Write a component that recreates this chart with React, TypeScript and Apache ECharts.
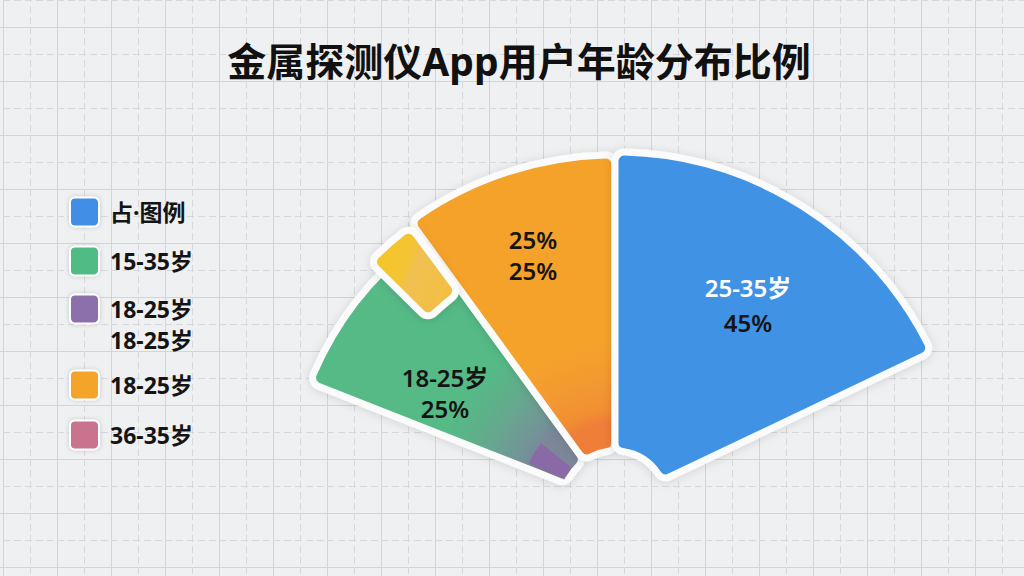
import React, { useEffect, useRef } from "react";
import * as echarts from "echarts";

// ---------- data ----------
const chartTitle = "金属探测仪App用户年龄分布比例";

// main sectors, listed clockwise from the start angle (arc in degrees)
const sliceArcs = [32.5, 36, 64.5]; // green, orange, blue
const sliceOuterRadii = [328, 348, 351];
const sliceTopLines = ["18-25岁", "25%", "25-35岁"];
const sliceBottomLines = ["25%", "25%", "45%"];

// small yellow wedge: lead-in arc from the start angle, its own arc
const wedgeArcs = [23, 9];
const wedgeRadii = [262, 344];

// purple tint near the hub of the green sector: lead-in arc, own arc
const tintArcs = [3.5, 14];
const tintRadii = [56, 95];

const legendLabels = ["占·图例", "15-35岁", "18-25岁\n18-25岁", "18-25岁", "36-35岁"];

// ---------- styles ----------
const CX = 615;
const CY = 503;
const START = 158.5;
const INNER = 52;
const FONT = '"Noto Sans", "Noto Sans CJK SC", sans-serif';

const radial = (r: number, stops: [number, string][]) => ({
  type: "radial",
  x: CX,
  y: CY,
  r,
  global: true,
  colorStops: stops.map(([offset, color]) => ({ offset, color })),
});

const sliceFills = [
  radial(328, [
    [0, "#7c8599"],
    [0.28, "#7b879a"],
    [0.32, "#739397"],
    [0.4, "#6aa391"],
    [0.48, "#5db189"],
    [0.56, "#55ba86"],
    [1, "#55ba86"],
  ]),
  radial(348, [
    [0, "#ef7c38"],
    [0.23, "#ef7e38"],
    [0.27, "#f28f33"],
    [0.36, "#f39a30"],
    [0.46, "#f5a22c"],
    [1, "#f5a22c"],
  ]),
  "#4192e5",
];
const sliceTopColors = ["#141414", "#141414", "#ffffff"];
const legendColors = ["#3f8ee6", "#50bb85", "#8b6fab", "#f5a42a", "#c9738f"];

const hidden = { color: "rgba(0,0,0,0)", borderWidth: 0, shadowBlur: 0 };
const shown = (fill: any, border = true) => ({
  color: fill,
  borderColor: "#fbfbfb",
  borderWidth: border ? 7 : 0,
  borderRadius: border ? 9 : 0,
  shadowBlur: border ? 10 : 0,
  shadowColor: "rgba(0,0,0,0.13)",
  shadowOffsetY: 1,
});

function pieLayer(arcs: number[], visible: number, radius: number[], style: any) {
  const used = arcs.reduce((a, b) => a + b, 0);
  const data = arcs.map((v, i) => ({ value: v, itemStyle: i === visible ? style : hidden }));
  data.push({ value: 360 - used, itemStyle: hidden });
  return {
    type: "pie",
    center: [CX, CY],
    radius,
    startAngle: START,
    clockwise: true,
    silent: true,
    animation: false,
    label: { show: false },
    labelLine: { show: false },
    emphasis: { disabled: true },
    data,
  };
}

const gridSvg =
  "<svg xmlns='http://www.w3.org/2000/svg' width='54' height='54'>" +
  "<path d='M0 0.5H54M0.5 0V54' stroke='#d2d4d7' stroke-width='1'/>" +
  "<path d='M0 27.5H54M27.5 0V54' stroke='#d6d8db' stroke-width='1' stroke-dasharray='7 4'/>" +
  "</svg>";

export default function App() {
  const ref = useRef<HTMLDivElement>(null);

  useEffect(() => {
    if (!ref.current) return;
    const chart = echarts.init(ref.current, null, { renderer: "svg" });

    const series: any[] = [];
    [0, 1, 2].forEach((i) => {
      series.push(pieLayer(sliceArcs, i, [INNER, sliceOuterRadii[i]], shown(sliceFills[i])));
    });
    series.push(pieLayer(tintArcs, 1, tintRadii, shown("#8a6aa6", false)));
    series.push(
      pieLayer(
        wedgeArcs,
        1,
        wedgeRadii,
        shown({
          type: "linear",
          x: 0,
          y: 0,
          x2: 1,
          y2: 0.4,
          colorStops: [
            { offset: 0, color: "#f5c62a" },
            { offset: 0.45, color: "#f4c431" },
            { offset: 0.6, color: "#f0c052" },
            { offset: 1, color: "#f2bf45" },
          ],
        })
      )
    );

    const labelPos = [
      [445, 393],
      [533, 255],
      [748, 305],
    ];
    const graphics: any[] = [];
    sliceTopLines.forEach((t, i) => {
      const [x, y] = labelPos[i];
      const lh = i === 2 ? 35 : 31;
      graphics.push({
        type: "text",
        x,
        y,
        z: 100,
        style: {
          text: `{a|${t}}\n{b|${sliceBottomLines[i]}}`,
          align: "center",
          verticalAlign: "middle",
          rich: {
            a: { fill: sliceTopColors[i], fontSize: 24, fontWeight: 600, fontFamily: FONT, lineHeight: lh, align: "center" },
            b: { fill: "#141414", fontSize: 24, fontWeight: 600, fontFamily: FONT, lineHeight: lh, align: "center" },
          },
        },
      });
    });

    graphics.push({
      type: "text",
      x: 519,
      y: 60,
      z: 100,
      style: { text: chartTitle, fill: "#111111", font: `bold 39px ${FONT}`, align: "center", verticalAlign: "middle" },
    });

    const legendY = [212, 261, 309, 385, 435];
    legendLabels.forEach((label, i) => {
      const cy = legendY[i];
      graphics.push({
        type: "rect",
        z: 100,
        shape: { x: 70, y: cy - 14.5, width: 29, height: 29, r: 5 },
        style: {
          fill: legendColors[i],
          stroke: "#ffffff",
          lineWidth: 2,
          shadowBlur: 4,
          shadowColor: "rgba(0,0,0,0.18)",
        },
      });
      label.split("\n").forEach((line, j) => {
        graphics.push({
          type: "text",
          x: 110,
          y: cy + j * 31,
          z: 100,
          style: {
            text: line,
            fill: "#141414",
            font: `bold 23px ${FONT}`,
            align: "left",
            verticalAlign: "middle",
          },
        });
      });
    });

    chart.setOption({
      animation: false,
      series,
      graphic: { elements: graphics },
    });

    return () => chart.dispose();
  }, []);

  return (
    <div
      ref={ref}
      style={{
        position: "fixed",
        left: 0,
        top: 0,
        width: 1024,
        height: 576,
        backgroundColor: "#eff0f1",
        backgroundImage: `url("data:image/svg+xml,${encodeURIComponent(gridSvg)}")`,
        backgroundPosition: "3px 27px",
      }}
    />
  );
}
